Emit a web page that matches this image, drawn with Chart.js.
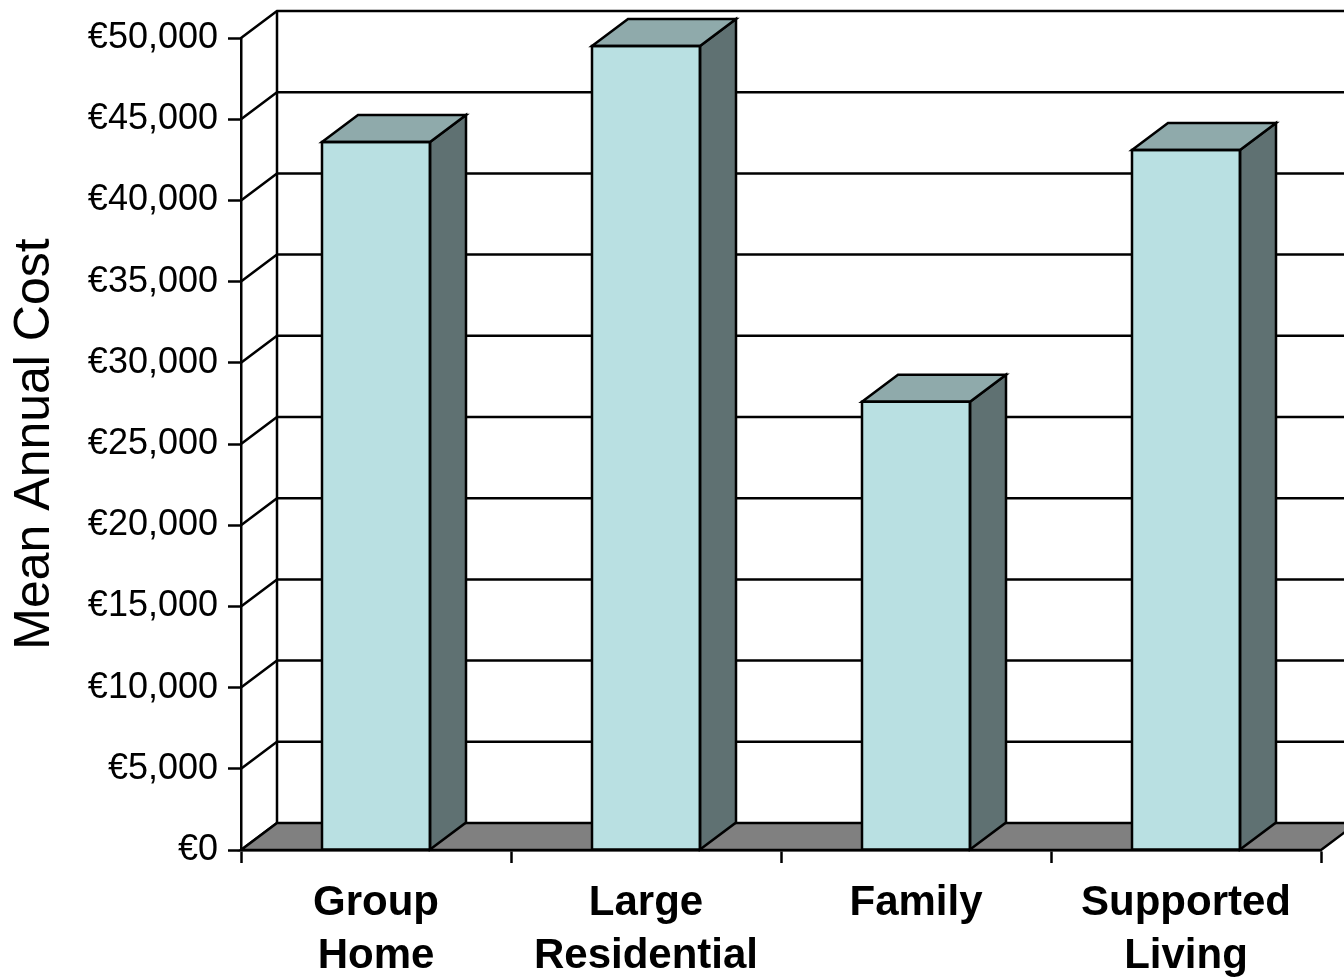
<!DOCTYPE html>
<html>
<head>
<meta charset="utf-8">
<title>Mean Annual Cost</title>
<script src="https://cdn.jsdelivr.net/npm/chart.js@4.4.1/dist/chart.umd.min.js"></script>
<style>
  html, body { margin: 0; padding: 0; background: #ffffff; }
  #wrap { width: 1344px; height: 977px; position: relative; }
</style>
</head>
<body>
<div id="wrap"><canvas id="costChart"></canvas></div>
<script>
// residence types and their mean annual cost (EUR)
const categories = [['Group', 'Home'], ['Large', 'Residential'], ['Family'], ['Supported', 'Living']];
const meanCost = [43600, 49500, 27600, 43100];
const yTicks = [0, 5000, 10000, 15000, 20000, 25000, 30000, 35000, 40000, 45000, 50000];

// depth of the fake 3d box (px)
const DEPTH_X = 36;
const DEPTH_Y = 27;
const LINE_W = 2.5;

const FRONT = '#b9e0e2';
const TOP = '#8faaab';
const SIDE = '#5f7172';
const FLOOR = '#808080';

function poly(ctx, pts, fill) {
    ctx.beginPath();
    ctx.moveTo(pts[0][0], pts[0][1]);
    for (let i = 1; i < pts.length; i++) ctx.lineTo(pts[i][0], pts[i][1]);
    ctx.closePath();
    if (fill) {
        ctx.fillStyle = fill;
        ctx.fill();
    }
    ctx.stroke();
}

// back wall, side wall and floor, drawn behind the bars
const wallPlugin = {
    id: 'walls',
    beforeDatasetsDraw(chart) {
        const { ctx, chartArea, scales } = chart;
        const y = scales.y;
        const left = chartArea.left, right = chartArea.right;
        const farRight = chart.width + DEPTH_X;
        ctx.save();
        ctx.strokeStyle = '#000';
        ctx.lineWidth = LINE_W;
        ctx.lineJoin = 'miter';

        yTicks.forEach(v => {
            const py = y.getPixelForValue(v);
            ctx.beginPath();
            ctx.moveTo(left, py);
            ctx.lineTo(left + DEPTH_X, py - DEPTH_Y);
            if (v > 0) ctx.lineTo(farRight, py - DEPTH_Y);
            ctx.stroke();
        });

        // back left edge
        ctx.beginPath();
        ctx.moveTo(left + DEPTH_X, y.getPixelForValue(yTicks[yTicks.length - 1]) - DEPTH_Y);
        ctx.lineTo(left + DEPTH_X, y.getPixelForValue(0) - DEPTH_Y);
        ctx.stroke();

        // floor
        const base = y.getPixelForValue(0);
        poly(ctx, [
            [left, base],
            [right, base],
            [right + DEPTH_X, base - DEPTH_Y],
            [left + DEPTH_X, base - DEPTH_Y]
        ], FLOOR);
        ctx.restore();
    },
    afterDatasetsDraw(chart) {
        const { ctx } = chart;
        const meta = chart.getDatasetMeta(0);
        ctx.save();
        ctx.strokeStyle = '#000';
        ctx.lineWidth = LINE_W;
        meta.data.forEach(bar => {
            const { x, y, base, width } = bar.getProps(['x', 'y', 'base', 'width'], true);
            const l = x - width / 2, r = x + width / 2;
            // right side
            poly(ctx, [[r, y], [r + DEPTH_X, y - DEPTH_Y], [r + DEPTH_X, base - DEPTH_Y], [r, base]], SIDE);
            // top
            poly(ctx, [[l, y], [l + DEPTH_X, y - DEPTH_Y], [r + DEPTH_X, y - DEPTH_Y], [r, y]], TOP);
            // front outline, same weight as the rest
            poly(ctx, [[l, y], [r, y], [r, base], [l, base]]);
        });
        ctx.restore();
    }
};

const ctx = document.getElementById('costChart').getContext('2d');
new Chart(ctx, {
    type: 'bar',
    data: {
        labels: categories,
        datasets: [{
            label: 'Mean Annual Cost',
            data: meanCost,
            backgroundColor: FRONT,
            borderWidth: 0,
            barPercentage: 0.4,
            categoryPercentage: 1.0
        }]
    },
    options: {
        responsive: true,
        maintainAspectRatio: false,
        animation: false,
        layout: { padding: { top: 38, right: 23, bottom: 0, left: 0 } },
        plugins: {
            legend: { display: false },
            tooltip: { enabled: false }
        },
        scales: {
            x: {
                afterFit: scale => { scale.height = 127; },
                grid: {
                    offset: true,
                    drawOnChartArea: false,
                    tickLength: 13,
                    tickWidth: LINE_W,
                    tickColor: '#000'
                },
                border: { display: true, color: '#000', width: LINE_W },
                ticks: {
                    color: '#000',
                    padding: 14,
                    maxRotation: 0,
                    autoSkip: false,
                    font: { family: 'Liberation Sans, Arial, sans-serif', size: 42, weight: 'bold', lineHeight: 1.26 }
                }
            },
            y: {
                min: 0,
                max: 50000,
                afterFit: scale => { scale.width = 241; },
                afterBuildTicks: scale => { scale.ticks = yTicks.map(v => ({ value: v })); },
                grid: {
                    drawOnChartArea: false,
                    tickLength: 13,
                    tickWidth: LINE_W,
                    tickColor: '#000'
                },
                border: { display: true, color: '#000', width: LINE_W },
                ticks: {
                    color: '#000',
                    padding: 10,
                    font: { family: 'Liberation Sans, Arial, sans-serif', size: 36 },
                    callback: v => '€' + Number(v).toLocaleString('en-US')
                },
                title: {
                    display: true,
                    text: 'Mean Annual Cost',
                    color: '#000',
                    padding: { top: 5, bottom: 0 },
                    font: { family: 'Liberation Sans, Arial, sans-serif', size: 50 }
                }
            }
        }
    },
    plugins: [wallPlugin]
});
</script>
</body>
</html>
